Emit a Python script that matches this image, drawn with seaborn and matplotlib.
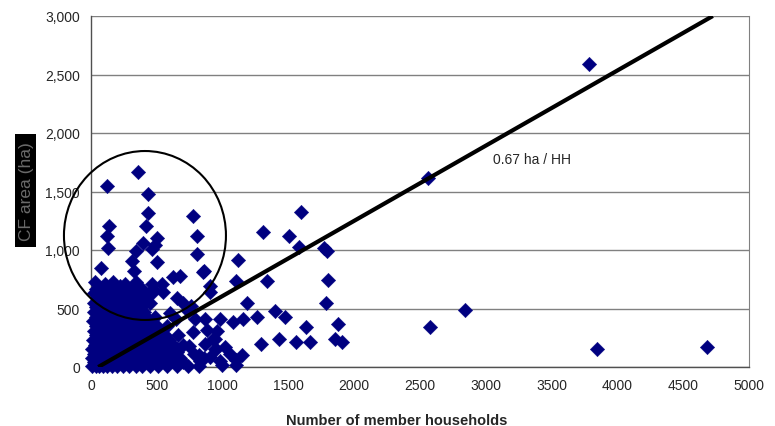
import numpy as np
import pandas as pd
import matplotlib
matplotlib.use("Agg")
import matplotlib.pyplot as plt
import seaborn as sns
from matplotlib.patches import Ellipse, Rectangle

# ======================================================
# DATA
# ======================================================

# dense cluster of small groups, one row of households per area level
cluster_rows = {
    10: [10, 35, 60, 90, 120, 160, 200, 240, 290, 340, 390, 450, 510, 580, 650, 740, 820],
    40: [20, 50, 85, 130, 175, 220, 270, 320, 370, 430, 500, 560, 640, 700],
    75: [5, 40, 75, 115, 160, 205, 255, 300, 350, 410, 470, 530, 610, 680, 860],
    110: [25, 60, 100, 140, 185, 230, 280, 330, 390, 450, 520, 600, 780],
    150: [10, 45, 90, 130, 170, 215, 265, 310, 360, 420, 480, 560, 650],
    190: [30, 70, 110, 150, 200, 250, 300, 350, 400, 460, 540, 620, 700],
    230: [15, 55, 95, 140, 180, 230, 280, 330, 380, 440, 510, 590],
    270: [35, 75, 120, 160, 205, 255, 300, 350, 410, 470, 560, 660],
    310: [20, 60, 100, 145, 190, 235, 285, 340, 400, 460, 530],
    350: [40, 80, 125, 170, 215, 260, 310, 360, 430, 500, 580],
    390: [15, 55, 100, 140, 185, 230, 280, 330, 390, 450],
    430: [35, 75, 120, 165, 210, 255, 300, 360, 420, 490],
    470: [20, 60, 105, 150, 195, 240, 290, 340, 400],
    510: [40, 85, 130, 175, 220, 270, 320, 380],
    550: [25, 65, 110, 150, 200, 250, 300, 360, 450],
    590: [45, 90, 135, 180, 230, 280, 340, 420],
    630: [20, 65, 110, 160, 210, 260, 320, 400],
    670: [40, 90, 140, 190, 250, 310, 390, 470],
}

cluster_edge_hh = [30, 106, 167, 220, 258, 342, 464, 540, 623, 676, 904,
                   471, 547, 653, 699, 737, 600, 646, 790, 867, 882, 943,
                   776, 744, 653, 950, 1018, 1056, 829, 980, 866, 942, 904,
                   927, 820, 1100, 760]
cluster_edge_area = [726, 709, 726, 692, 709, 726, 709, 709, 769, 778, 692,
                     640, 640, 590, 550, 480, 460, 410, 410, 410, 320, 240,
                     300, 180, 130, 150, 171, 111, 51, 51, 197, 154, 85,
                     239, 100, 60, 520]

# points inside the circled group
circle_hh = [357, 122, 433, 433, 775, 137, 418, 122, 805, 502, 395, 486,
             129, 342, 464, 805, 312, 502, 76, 327, 851]
circle_area = [1667, 1547, 1479, 1316, 1291, 1205, 1205, 1120, 1120, 1103,
               1060, 1043, 1017, 991, 1009, 966, 906, 897, 846, 821, 812]

# scattered mid-size groups
spread_hh = [1596, 1307, 1505, 1581, 1771, 1793, 1117, 859, 1102, 1337,
             1801, 904, 1185, 1786, 1398, 1474, 1261, 980, 1079, 1155,
             1634, 1877, 957, 1429, 1558, 1664, 1854, 1907, 1292, 1147,
             995, 1102]
spread_area = [1325, 1154, 1120, 1026, 1017, 991, 915, 821, 735, 735,
               744, 641, 547, 547, 479, 427, 427, 410, 385, 410,
               342, 368, 308, 239, 214, 214, 239, 214, 197, 103,
               17, 17]

# largest groups
outlier_hh = [3784, 2561, 2576, 2842, 3845, 4681]
outlier_area = [2590, 1615, 342, 487, 154, 171]

# fitted line
fit_hh = [55, 4725]
fit_area = [0, 3000]

# ======================================================
# BUILD TABLE
# ======================================================

hh = []
area = []
for a, xs in cluster_rows.items():
    hh += xs
    area += [a] * len(xs)
hh += cluster_edge_hh + circle_hh + spread_hh + outlier_hh
area += cluster_edge_area + circle_area + spread_area + outlier_area

df = pd.DataFrame({"households": hh, "area": area})

# ======================================================
# PLOT
# ======================================================

sns.set_style("white")
plt.rcParams["font.family"] = ["Liberation Sans", "DejaVu Sans"]

fig = plt.figure(figsize=(7.75, 4.27), dpi=100)
ax = fig.add_axes([91/775, 1-368/427, (749-91)/775, (368-17)/427])

ax.yaxis.grid(True, color="#808080", linewidth=1.0)
ax.set_axisbelow(True)

sns.scatterplot(
    data=df,
    x="households",
    y="area",
    marker="D",
    s=54,
    color="#000080",
    edgecolor="#000080",
    linewidth=0.3,
    clip_on=False,
    zorder=3,
    ax=ax
)

ax.plot(fit_hh, fit_area, color="black", linewidth=3, zorder=4,
        solid_capstyle="butt")

ax.add_patch(Ellipse((410, 1124), 1231, 1444, fill=False,
                     edgecolor="black", linewidth=1.5, zorder=5,
                     clip_on=False))

ax.text(3055, 1778, "0.67 ha / HH", fontsize=10, va="center", ha="left")

ax.set_xlim(0, 5000)
ax.set_ylim(0, 3000)
ax.set_xticks(np.arange(0, 5001, 500))
ax.set_yticks(np.arange(0, 3001, 500))
ax.set_yticklabels([f"{v:,}" for v in range(0, 3001, 500)])

for side in ["left", "bottom"]:
    ax.spines[side].set_color("#505050")
    ax.spines[side].set_linewidth(1.0)
ax.spines["right"].set_color("#808080")
ax.spines["top"].set_visible(False)

ax.tick_params(axis="both", direction="out", length=4, width=1,
               color="#505050", labelsize=10, pad=4)

ax.set_xlabel("Number of member households", fontsize=10.5,
              fontweight="bold", labelpad=8)
ax.xaxis.set_label_coords(0.465, -0.13)
ax.set_ylabel("")

# y-axis title in a black box
fig.patches.append(Rectangle((15/775, 1-248/427), 21/775, 113/427,
                             transform=fig.transFigure, facecolor="black",
                             edgecolor="none"))
fig.text(26/775, 1-192/427, "CF area (ha)", rotation=90, fontsize=12.5,
         color="#6a6a6a", ha="center", va="center")

plt.savefig("out.png", dpi=100)
plt.close()
